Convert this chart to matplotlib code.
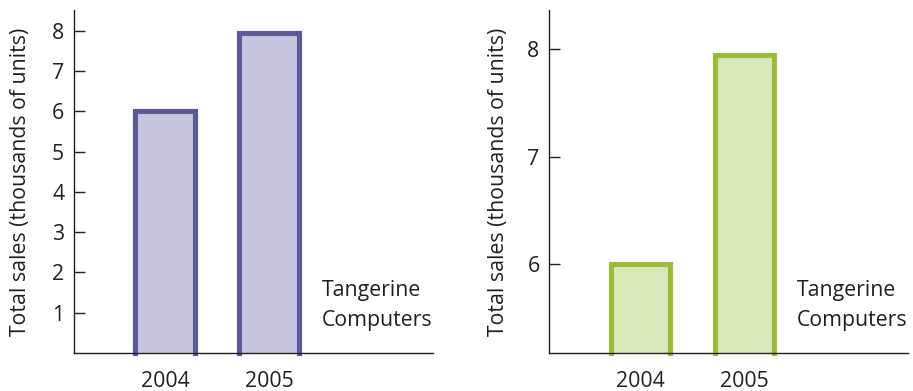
import matplotlib
matplotlib.use("Agg")
import matplotlib.pyplot as plt
import numpy as np

years = ["2004", "2005"]
sales = [6.0, 7.95]
left_ticks = [1, 2, 3, 4, 5, 6, 7, 8]
right_ticks = [6, 7, 8]
ylabel = "Total sales (thousands of units)"
company = "Tangerine\nComputers"

plt.rcParams['font.family'] = ['Open Sans', 'DejaVu Sans']

fig = plt.figure(figsize=(9.13, 3.91), dpi=100)
axL = fig.add_axes([74/913, 1-353/391, (433-74)/913, 343/391])
axR = fig.add_axes([549.3/913, 1-353/391, (908-549.3)/913, 343/391])

FS = 15.3

def draw(ax, edge, fill, ylim, ticks, labx):
    x = np.arange(len(years))
    w = 0.57
    base = ylim[0]
    ax.bar(x, np.array(sales) - base, bottom=base, width=w, color=fill,
           edgecolor='none', zorder=1)
    for xi, v in zip(x, sales):
        ax.plot([xi - w/2, xi - w/2, xi + w/2, xi + w/2], [base, v, v, base],
                color=edge, lw=3.7, solid_joinstyle='miter', zorder=2, clip_on=False)
    ax.set_xlim(-0.875, 2.577)
    ax.set_ylim(*ylim)
    ax.set_yticks(ticks)
    ax.set_yticklabels([str(t) for t in ticks])
    ax.set_xticks(x)
    ax.set_xticklabels(years)
    for s in ['top', 'right']:
        ax.spines[s].set_visible(False)
    for s in ['left', 'bottom']:
        ax.spines[s].set_linewidth(1.0)
        ax.spines[s].set_color('#231f20')
        ax.spines[s].set_zorder(3)
    ax.tick_params(axis='y', direction='in', length=8, width=1.0, pad=7,
                   labelsize=FS, colors='#231f20')
    ax.tick_params(axis='x', length=0, pad=13, labelsize=FS, colors='#231f20')
    ax.set_ylabel(ylabel, fontsize=FS, color='#231f20', labelpad=labx)
    ax.text(0.69, 0.212, company, transform=ax.transAxes, ha='left', va='top',
            fontsize=FS, color='#231f20', linespacing=1.55)

draw(axL, '#5c5a9a', '#c8c6de', (0, 8.52), left_ticks, 15)
draw(axR, '#9bbd36', '#d9e8b8', (5.173, 8.366), right_ticks, 13)

fig.savefig("out.png", dpi=100)
